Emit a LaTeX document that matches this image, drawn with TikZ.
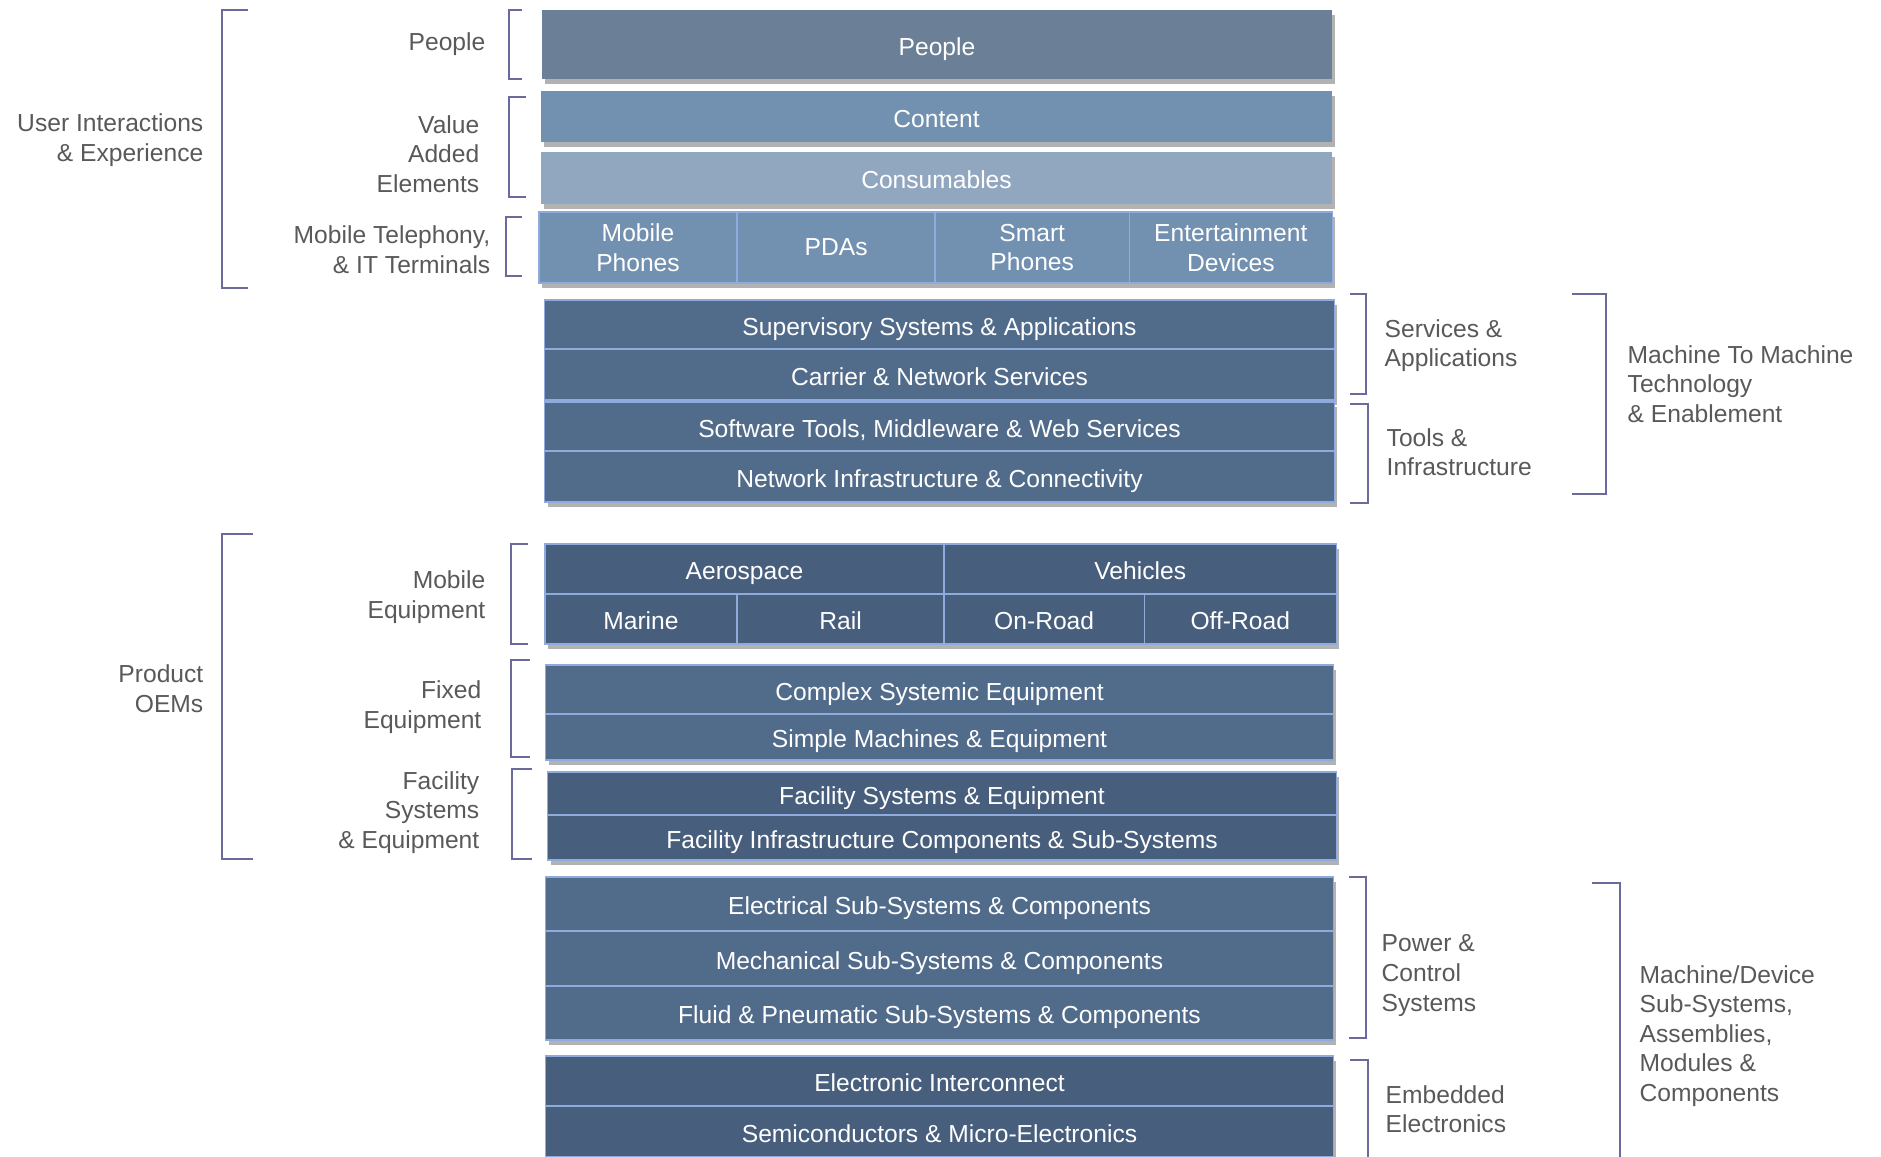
\documentclass[tikz,border=0pt]{standalone}
\usepackage{fontspec}
\setmainfont{Liberation Sans}
\usepackage{tikz}
\usetikzlibrary{positioning,shadows}

\definecolor{brk}{HTML}{6A6A9C}
\definecolor{lbl}{HTML}{595959}
\definecolor{edge}{HTML}{8FAADC}
\definecolor{cpeople}{HTML}{6B7F96}
\definecolor{cmid}{HTML}{7290B0}
\definecolor{clight}{HTML}{91A7BF}
\definecolor{cblue}{HTML}{516B8B}
\definecolor{cdark}{HTML}{475E7C}

\begin{document}
\begin{tikzpicture}[x=0.01cm, y=-0.01cm, font=\fontsize{7.0}{8.4}\selectfont,
		tier/.style={rectangle, inner sep=0pt, outer sep=0pt, text=white, align=center, draw=edge, line width=0.4pt,
			drop shadow={shadow xshift=0.03cm, shadow yshift=-0.05cm, fill=black, opacity=0.3}},
		row/.style={tier, text height=0.72em, text depth=0.12em},
		flat/.style={row, draw=none},
		lab/.style={text=lbl, inner sep=0pt},
		labl/.style={lab, anchor=west, align=left},
		labr/.style={lab, anchor=east, align=right},
		brace/.style={draw=brk, line width=0.6pt}]
		\useasboundingbox (0,0) rectangle (1881,1156);

		\node[flat, fill=cpeople, minimum width=7.90cm, minimum height=0.69cm] (people) at (937,44.5) {People};
		\node[flat, fill=cmid, minimum width=7.91cm, minimum height=0.51cm] (content) at (936.5,116.5) {Content};
		\node[flat, fill=clight, minimum width=7.91cm, minimum height=0.52cm] (consum) at (936.5,178) {Consumables};

		\node[tier, fill=cmid, minimum width=1.98cm, minimum height=0.71cm] (mobph) at (638,247.5) {Mobile\\Phones};
		\node[tier, fill=cmid, minimum width=1.98cm, minimum height=0.71cm, right=0pt of mobph] (pda) {PDAs};
		\node[tier, fill=cmid, minimum width=1.94cm, minimum height=0.71cm, right=0pt of pda] (smart) {Smart\\Phones};
		\node[tier, fill=cmid, minimum width=2.03cm, minimum height=0.71cm, right=0pt of smart] (ent) {Entertainment\\Devices};

		\node[row, fill=cblue, minimum width=7.89cm, minimum height=0.49cm] (sup) at (939.5,324.5) {Supervisory Systems \& Applications};
		\node[row, fill=cblue, minimum width=7.89cm, minimum height=0.51cm, below=0pt of sup] (carrier) {Carrier \& Network Services};
		\node[row, fill=cblue, minimum width=7.89cm, minimum height=0.49cm] (soft) at (939.5,426.5) {Software Tools, Middleware \& Web Services};
		\node[row, fill=cblue, minimum width=7.89cm, minimum height=0.51cm, below=0pt of soft] (net) {Network Infrastructure \& Connectivity};

		\node[row, fill=cdark, minimum width=3.99cm, minimum height=0.50cm] (aero) at (744.5,569) {Aerospace};
		\node[row, fill=cdark, minimum width=3.92cm, minimum height=0.50cm, right=0pt of aero] (veh) {Vehicles};
		\node[row, fill=cdark, minimum width=1.92cm, minimum height=0.50cm, below right=0pt of aero.south west] (marine) {Marine};
		\node[row, fill=cdark, minimum width=2.07cm, minimum height=0.50cm, right=0pt of marine] (rail) {Rail};
		\node[row, fill=cdark, minimum width=2.00cm, minimum height=0.50cm, right=0pt of rail] (onroad) {On-Road};
		\node[row, fill=cdark, minimum width=1.92cm, minimum height=0.50cm, right=0pt of onroad] (offroad) {Off-Road};

		\node[row, fill=cblue, minimum width=7.87cm, minimum height=0.49cm] (complex) at (939.5,689.5) {Complex Systemic Equipment};
		\node[row, fill=cblue, minimum width=7.87cm, minimum height=0.46cm, below=0pt of complex] (simple) {Simple Machines \& Equipment};
		\node[row, fill=cdark, minimum width=7.88cm, minimum height=0.43cm] (facsys) at (942,793.5) {Facility Systems \& Equipment};
		\node[row, fill=cdark, minimum width=7.88cm, minimum height=0.45cm, below=0pt of facsys] (facinf) {Facility Infrastructure Components \& Sub-Systems};

		\node[row, fill=cblue, minimum width=7.87cm, minimum height=0.54cm] (elec) at (939.5,904) {Electrical Sub-Systems \& Components};
		\node[row, fill=cblue, minimum width=7.87cm, minimum height=0.55cm, below=0pt of elec] (mech) {Mechanical Sub-Systems \& Components};
		\node[row, fill=cblue, minimum width=7.87cm, minimum height=0.54cm, below=0pt of mech] (fluid) {Fluid \& Pneumatic Sub-Systems \& Components};
		\node[row, fill=cdark, minimum width=7.87cm, minimum height=0.50cm] (einter) at (939.5,1081) {Electronic Interconnect};
		\node[row, fill=cdark, minimum width=7.87cm, minimum height=0.51cm, below=0pt of einter] (semi) {Semiconductors \& Micro-Electronics};

		\node[labr] (luser) at (204,140) {User Interactions\\\& Experience};
		\node[labr] (lpeople) at (486,44) {People};
		\node[labr] (lvalue) at (480,154) {Value\\Added\\Elements};
		\node[labr] (lmobtel) at (491,249.5) {Mobile Telephony,\\\& IT Terminals};
		\node[labr] (loem) at (204,688.5) {Product\\OEMs};
		\node[labr] (lmobeq) at (486,597) {Mobile\\Equipment};
		\node[labr] (lfixed) at (482,707) {Fixed\\Equipment};
		\node[labr] (lfacil) at (480,812.5) {Facility\\Systems\\\& Equipment};
		\node[labl] (lserv) at (1384,345.5) {Services \&\\Applications};
		\node[labl] (ltools) at (1386,452) {Tools \&\\Infrastructure};
		\node[labl] (lmtm) at (1627,384) {Machine To Machine\\Technology\\\& Enablement};
		\node[labl] (lpower) at (1381,975.5) {Power \&\\Control\\Systems};
		\node[labl] (lembed) at (1385,1109) {Embedded\\Electronics};
		\node[labl] (ldevice) at (1639,1036) {Machine/Device\\Sub-Systems,\\Assemblies,\\Modules \&\\Components};

		\draw[brace] (248,10) -- (222,10) -- (222,288) -- (248,288);
		\draw[brace] (522,10) -- (509,10) -- (509,79) -- (522,79);
		\draw[brace] (526,97) -- (509,97) -- (509,197) -- (526,197);
		\draw[brace] (522,217) -- (506,217) -- (506,276) -- (522,276);
		\draw[brace] (253,534) -- (222,534) -- (222,859) -- (253,859);
		\draw[brace] (528,544) -- (511,544) -- (511,644) -- (528,644);
		\draw[brace] (530,660) -- (511,660) -- (511,757) -- (530,757);
		\draw[brace] (532,769) -- (512,769) -- (512,859) -- (532,859);
		\draw[brace] (1350,294) -- (1366,294) -- (1366,394) -- (1350,394);
		\draw[brace] (1350,404) -- (1368,404) -- (1368,503) -- (1350,503);
		\draw[brace] (1572,294) -- (1606,294) -- (1606,494) -- (1572,494);
		\draw[brace] (1349,877) -- (1366,877) -- (1366,1038) -- (1349,1038);
		\draw[brace] (1350,1060) -- (1368,1060) -- (1368,1160) -- (1350,1160);
		\draw[brace] (1592,883) -- (1620,883) -- (1620,1160) -- (1592,1160);
\end{tikzpicture}
\end{document}
